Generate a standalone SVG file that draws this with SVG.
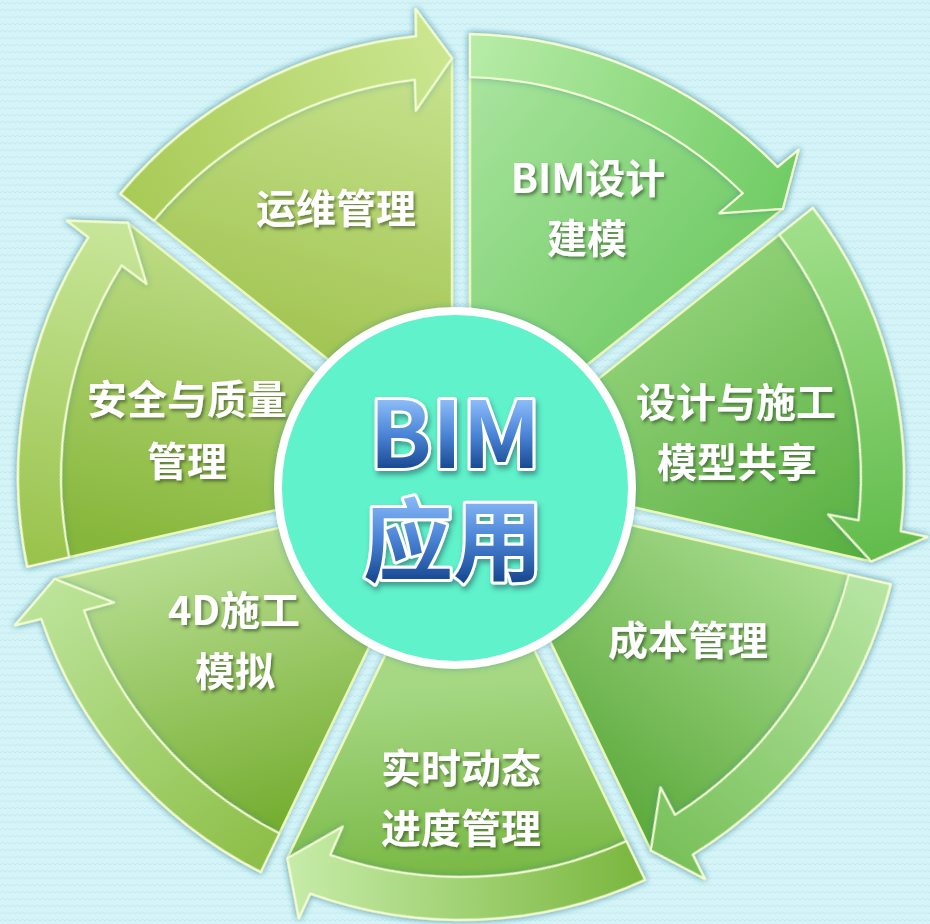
<svg xmlns="http://www.w3.org/2000/svg" width="930" height="924" viewBox="0 0 930 924">
<defs>
<style>
.wedge{stroke:#eaf9b8;stroke-width:2.5;stroke-linejoin:round}
.band{stroke:#f3fdd4;stroke-width:2.2;stroke-linejoin:round}
.lbl{font-family:"Noto Sans CJK SC","Noto Sans",sans-serif;font-weight:700;font-size:40px;fill:#ffffff;text-anchor:middle;filter:url(#tshadow)}
.big{font-family:"Noto Sans CJK SC","Noto Sans",sans-serif;font-weight:700;stroke:#ffffff;stroke-width:6;paint-order:stroke;stroke-linejoin:round;text-anchor:middle;filter:url(#bshadow)}
</style>
<pattern id="zig" width="10" height="7" patternUnits="userSpaceOnUse">
<rect width="10" height="7" fill="#d5f4f8"/>
<path d="M0 4 L2.5 2 L5 4 L7.5 2 L10 4" fill="none" stroke="#c2e9ef" stroke-width="1"/>
</pattern>
<filter id="shadow" x="-10%" y="-10%" width="120%" height="120%">
<feDropShadow dx="0" dy="0" stdDeviation="3" flood-color="#2a7a90" flood-opacity="0.45"/>
</filter>
<filter id="tshadow" x="-10%" y="-20%" width="130%" height="150%">
<feDropShadow dx="2" dy="2.5" stdDeviation="1.5" flood-color="#2a3a20" flood-opacity="0.55"/>
</filter>
<filter id="bshadow" x="-10%" y="-10%" width="130%" height="130%">
<feDropShadow dx="2" dy="4" stdDeviation="2.5" flood-color="#1a4a5a" flood-opacity="0.5"/>
</filter>
<linearGradient id="blue1" gradientUnits="userSpaceOnUse" x1="0" y1="400" x2="0" y2="470">
<stop offset="0" stop-color="#8cbcf8"/>
<stop offset="0.5" stop-color="#4a84d6"/>
<stop offset="1" stop-color="#17478f"/>
</linearGradient>
<linearGradient id="blue2" gradientUnits="userSpaceOnUse" x1="0" y1="495" x2="0" y2="582">
<stop offset="0" stop-color="#8cbcf8"/>
<stop offset="0.5" stop-color="#4a84d6"/>
<stop offset="1" stop-color="#17478f"/>
</linearGradient>
<linearGradient id="wg0" gradientUnits="userSpaceOnUse" x1="0" y1="-430" x2="320" y2="-160"><stop offset="0" stop-color="#ade6a2"/><stop offset="1" stop-color="#68c65c"/></linearGradient>
<linearGradient id="wg1" gradientUnits="userSpaceOnUse" gradientTransform="rotate(-51.4286)" x1="170" y1="-260" x2="420" y2="80"><stop offset="0" stop-color="#a0da86"/><stop offset="1" stop-color="#56ae3e"/></linearGradient>
<linearGradient id="wg2" gradientUnits="userSpaceOnUse" gradientTransform="rotate(-102.8571)" x1="400" y1="100" x2="190" y2="380"><stop offset="0" stop-color="#acdf92"/><stop offset="1" stop-color="#5aa83a"/></linearGradient>
<linearGradient id="wg3" gradientUnits="userSpaceOnUse" gradientTransform="rotate(-154.2857)" x1="60" y1="200" x2="80" y2="430"><stop offset="0" stop-color="#a6d884"/><stop offset="1" stop-color="#70b238"/></linearGradient>
<linearGradient id="wg4" gradientUnits="userSpaceOnUse" gradientTransform="rotate(-205.7143)" x1="-250" y1="60" x2="-170" y2="340"><stop offset="0" stop-color="#b8de92"/><stop offset="1" stop-color="#76ae32"/></linearGradient>
<linearGradient id="wg5" gradientUnits="userSpaceOnUse" gradientTransform="rotate(-257.1429)" x1="-230" y1="-230" x2="-300" y2="80"><stop offset="0" stop-color="#bedc86"/><stop offset="1" stop-color="#86b63a"/></linearGradient>
<linearGradient id="wg6" gradientUnits="userSpaceOnUse" gradientTransform="rotate(-308.5714)" x1="-60" y1="-420" x2="-150" y2="-120"><stop offset="0" stop-color="#c6e28e"/><stop offset="1" stop-color="#a2c452"/></linearGradient>
<linearGradient id="bg0" gradientUnits="userSpaceOnUse" x1="9" y1="-440" x2="330" y2="-290"><stop offset="0" stop-color="#b8eca8"/><stop offset="1" stop-color="#70cc64"/></linearGradient>
<linearGradient id="bg1" gradientUnits="userSpaceOnUse" x1="9" y1="-440" x2="330" y2="-290"><stop offset="0" stop-color="#a2e08c"/><stop offset="1" stop-color="#62bc4c"/></linearGradient>
<linearGradient id="bg2" gradientUnits="userSpaceOnUse" x1="9" y1="-440" x2="330" y2="-290"><stop offset="0" stop-color="#b8e6a4"/><stop offset="1" stop-color="#78c05a"/></linearGradient>
<linearGradient id="bg3" gradientUnits="userSpaceOnUse" x1="9" y1="-440" x2="330" y2="-290"><stop offset="0" stop-color="#7ab63e"/><stop offset="1" stop-color="#c6eca8"/></linearGradient>
<linearGradient id="bg4" gradientUnits="userSpaceOnUse" x1="9" y1="-440" x2="330" y2="-290"><stop offset="0" stop-color="#8cbe46"/><stop offset="1" stop-color="#bce49a"/></linearGradient>
<linearGradient id="bg5" gradientUnits="userSpaceOnUse" x1="9" y1="-440" x2="330" y2="-290"><stop offset="0" stop-color="#98c24a"/><stop offset="1" stop-color="#c8e69a"/></linearGradient>
<linearGradient id="bg6" gradientUnits="userSpaceOnUse" x1="9" y1="-440" x2="330" y2="-290"><stop offset="0" stop-color="#a8ca56"/><stop offset="1" stop-color="#cbe690"/></linearGradient>
</defs>

<rect width="930" height="924" fill="url(#zig)"/>

<g id="wedges" filter="url(#shadow)">
<path class="wedge" fill="url(#wg0)" transform="translate(461,477)" d="M9,-18.7 L9,-442.9 A443,443 0 0 1 316.51,-309.95 L337.52,-327.08 L321.9,-268.22 Z"/>
<path class="wedge" fill="url(#wg1)" transform="translate(461,477) rotate(51.4286)" d="M9,-18.7 L9,-442.9 A443,443 0 0 1 316.51,-309.95 L337.52,-327.08 L321.9,-268.22 Z"/>
<path class="wedge" fill="url(#wg2)" transform="translate(461,477) rotate(102.8571)" d="M9,-18.7 L9,-442.9 A443,443 0 0 1 316.51,-309.95 L337.52,-327.08 L321.9,-268.22 Z"/>
<path class="wedge" fill="url(#wg3)" transform="translate(461,477) rotate(154.2857)" d="M9,-18.7 L9,-442.9 A443,443 0 0 1 316.51,-309.95 L337.52,-327.08 L321.9,-268.22 Z"/>
<path class="wedge" fill="url(#wg4)" transform="translate(461,477) rotate(205.7143)" d="M9,-18.7 L9,-442.9 A443,443 0 0 1 316.51,-309.95 L337.52,-327.08 L321.9,-268.22 Z"/>
<path class="wedge" fill="url(#wg5)" transform="translate(461,477) rotate(257.1429)" d="M9,-18.7 L9,-442.9 A443,443 0 0 1 316.51,-309.95 L337.52,-327.08 L321.9,-268.22 Z"/>
<path class="wedge" fill="url(#wg6)" transform="translate(461,477) rotate(308.5714)" d="M9,-18.7 L9,-442.9 A443,443 0 0 1 316.51,-309.95 L337.52,-327.08 L321.9,-268.22 Z"/>
</g>

<g id="connectors" filter="url(#shadow)">
<path class="band" fill="url(#bg0)" transform="translate(461,477)" d="M9,-399.9 L9,-442.9 A443,443 0 0 1 316.51,-309.95 L337.52,-327.08 L321.9,-268.22 L258.18,-263.64 L281.85,-283.83 A400,400 0 0 0 9,-399.9 Z"/>
<path class="band" fill="url(#bg1)" transform="translate(461,477) rotate(51.4286)" d="M9,-399.9 L9,-442.9 A443,443 0 0 1 316.51,-309.95 L337.52,-327.08 L321.9,-268.22 L258.18,-263.64 L281.85,-283.83 A400,400 0 0 0 9,-399.9 Z"/>
<path class="band" fill="url(#bg2)" transform="translate(461,477) rotate(102.8571)" d="M9,-399.9 L9,-442.9 A443,443 0 0 1 316.51,-309.95 L337.52,-327.08 L321.9,-268.22 L258.18,-263.64 L281.85,-283.83 A400,400 0 0 0 9,-399.9 Z"/>
<path class="band" fill="url(#bg3)" transform="translate(461,477) rotate(154.2857)" d="M9,-399.9 L9,-442.9 A443,443 0 0 1 316.51,-309.95 L337.52,-327.08 L321.9,-268.22 L258.18,-263.64 L281.85,-283.83 A400,400 0 0 0 9,-399.9 Z"/>
<path class="band" fill="url(#bg4)" transform="translate(461,477) rotate(205.7143)" d="M9,-399.9 L9,-442.9 A443,443 0 0 1 316.51,-309.95 L337.52,-327.08 L321.9,-268.22 L258.18,-263.64 L281.85,-283.83 A400,400 0 0 0 9,-399.9 Z"/>
<path class="band" fill="url(#bg5)" transform="translate(461,477) rotate(257.1429)" d="M9,-399.9 L9,-442.9 A443,443 0 0 1 316.51,-309.95 L337.52,-327.08 L321.9,-268.22 L258.18,-263.64 L281.85,-283.83 A400,400 0 0 0 9,-399.9 Z"/>
<path class="band" fill="url(#bg6)" transform="translate(461,477) rotate(308.5714)" d="M9,-399.9 L9,-442.9 A443,443 0 0 1 316.51,-309.95 L337.52,-327.08 L321.9,-268.22 L258.18,-263.64 L281.85,-283.83 A400,400 0 0 0 9,-399.9 Z"/>
</g>

<g id="node-bim-design"><text class="lbl" x="588" y="193">BIM设计</text><text class="lbl" x="587" y="253">建模</text></g>
<g id="node-model-share"><text class="lbl" x="736" y="417">设计与施工</text><text class="lbl" x="737" y="477">模型共享</text></g>
<g id="node-cost"><text class="lbl" x="688" y="655">成本管理</text></g>
<g id="node-progress"><text class="lbl" x="461" y="783">实时动态</text><text class="lbl" x="461" y="843">进度管理</text></g>
<g id="node-4d"><text class="lbl" x="234" y="625">4D施工</text><text class="lbl" x="235" y="686">模拟</text></g>
<g id="node-safety"><text class="lbl" x="187" y="414">安全与质量</text><text class="lbl" x="187" y="476">管理</text></g>
<g id="node-om"><text class="lbl" x="336" y="223">运维管理</text></g>

<g id="node-center">
<circle cx="455" cy="488" r="177" fill="#60f2ca" stroke="#ffffff" stroke-width="8" filter="url(#shadow)"/>
<text class="big"><tspan x="455" y="468" font-size="92" fill="url(#blue1)">BIM</tspan><tspan x="453" y="574" font-size="90" fill="url(#blue2)">应用</tspan></text>
</g>
</svg>
